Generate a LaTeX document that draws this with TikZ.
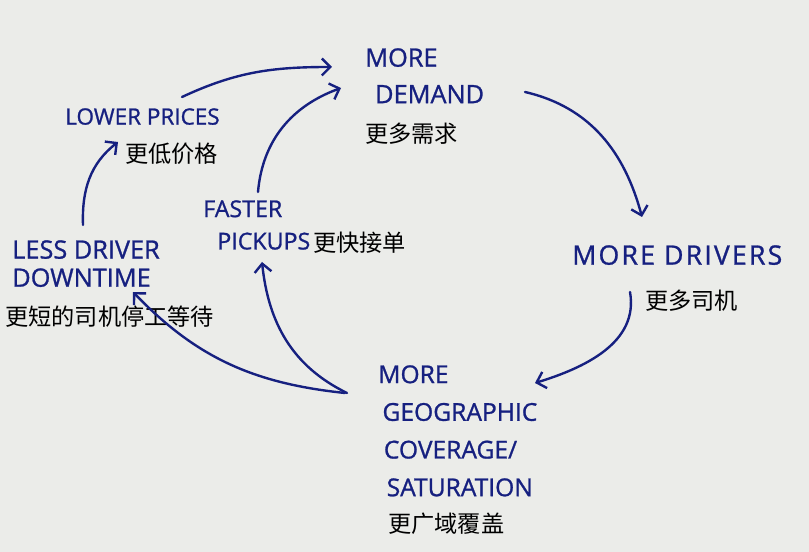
\documentclass[tikz,border=0pt]{standalone}
\usepackage{fontspec}
\usepackage{tikz}
\usetikzlibrary{arrows.meta, calc}
\newfontfamily\handfont[FakeBold=1]{Open Sans}
\newfontfamily\cjk{Noto Sans CJK SC}
\definecolor{inkblue}{RGB}{22, 32, 128}
\definecolor{paper}{RGB}{235, 236, 233}

\begin{document}
\begin{tikzpicture}[
    x=0.025cm, y=0.025cm,
    hand/.style={anchor=north west, inner sep=0pt, align=left, text=inkblue,
        font=\handfont\fontsize{18}{26}\selectfont},
    zh/.style={anchor=north west, inner sep=0pt,
        font=\cjk\fontsize{16.5}{20}\selectfont},
    link/.style={draw=inkblue, line width=1.7pt, line cap=round,
        -{Straight Barb[length=6pt, width=12pt, line width=1.7pt]}}
]
    \fill[paper] (0,0) rectangle (809,552);

    % English labels, placed at their top-left corners
    \node[hand] (demand) at (365,504) {MORE\\\hspace{7pt}DEMAND};
    \node[hand, font=\handfont\addfontfeature{LetterSpace=8}\fontsize{19}{26}\selectfont]
        (drivers) at (572,307) {MORE DRIVERS};
    \node[hand, font=\handfont\fontsize{17.5}{26.8}\selectfont] (coverage) at (378,187)
        {MORE\\\hspace{3pt}GEOGRAPHIC\\\hspace{4pt}COVERAGE/\\\hspace{6pt}SATURATION};
    \node[hand, font=\handfont\fontsize{16.5}{23}\selectfont] (pickups) at (203,352)
        {FASTER\\\hspace{10pt}PICKUPS};
    \node[hand, font=\handfont\fontsize{18}{20}\selectfont] (downtime) at (12,312)
        {LESS DRIVER\\DOWNTIME};
    \node[hand, font=\handfont\fontsize{16}{20}\selectfont] (prices) at (65,444)
        {LOWER PRICES};

    % Chinese labels
    \node[zh] (demandzh) at (365,429) {更多需求};
    \node[zh] (driverszh) at (645,262) {更多司机};
    \node[zh] (coveragezh) at (388,39) {更广域覆盖};
    \node[zh] (pickupszh) at (313,320) {更快接单};
    \node[zh] (downtimezh) at (5,246) {更短的司机停工等待};
    \node[zh] (priceszh) at (125,409) {更低价格};

    % loop
    \draw[link] ($(prices.north west)+(117,11)$) to[out=25, in=180]
        ($(demand.north west)+(-33,-19)$);
    \draw[link] ($(pickups.north west)+(55,8)$) to[out=85, in=200]
        ($(demand.north west)+(-24,-40)$);
    \draw[link] ($(demand.north west)+(160,-44)$) to[out=-13, in=105]
        ($(drivers.north west)+(70,28)$);
    \draw[link] ($(drivers.north west)+(58,-47)$) to[out=-80, in=17]
        ($(coverage.north west)+(157,-18)$);
    \draw[link] ($(coverage.north west)+(-31,-28)$) to[out=154, in=-84]
        ($(pickups.north west)+(59,-62)$);
    \draw[link] ($(coverage.north west)+(-33,-28)$) to[out=174, in=-46]
        ($(downtime.north west)+(121,-52)$);
    \draw[link] ($(downtime.north west)+(71,15)$) to[out=92, in=218]
        ($(prices.north west)+(53,-34)$);
\end{tikzpicture}
\end{document}
